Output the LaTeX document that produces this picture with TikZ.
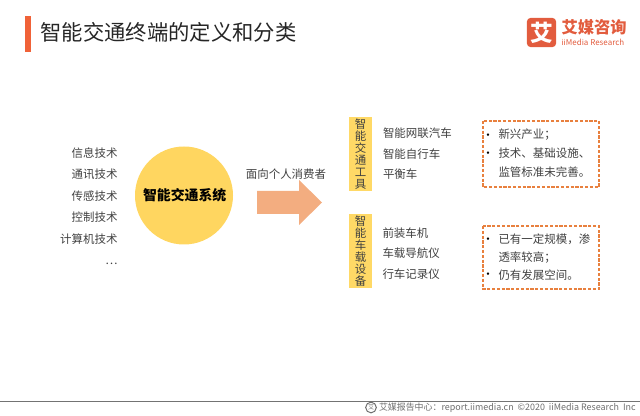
\documentclass[tikz,border=0pt]{standalone}
\usepackage{fontspec}
\setmainfont{Noto Sans CJK SC}
\definecolor{titlebar}{RGB}{240,98,56}
\definecolor{logored}{RGB}{226,92,62}
\definecolor{circlefill}{RGB}{255,214,96}
\definecolor{arrowfill}{RGB}{243,173,128}
\definecolor{tagfill}{RGB}{255,217,102}
\definecolor{dashline}{RGB}{232,128,62}
\definecolor{textgrey}{RGB}{64,64,64}
\definecolor{footgrey}{RGB}{110,110,110}
\tikzset{every picture/.style={line width=0.75pt}}
\tikzset{
  itemtext/.style={inner sep=0pt,text=textgrey,font=\fontsize{8.6}{10}\selectfont,text height=7.6pt,text depth=1.2pt},
  tagtext/.style={inner sep=0pt,text=textgrey,font=\fontsize{8.6}{9}\selectfont,align=center,fill=tagfill,minimum width=17.25pt,minimum height=55.5pt},
  dashbox/.style={draw=dashline,line width=1.1pt,dash pattern=on 2.4pt off 1.2pt}
}

\begin{document}
\begin{tikzpicture}[x=0.75pt,y=0.75pt,yscale=-1]
\useasboundingbox (0,0) rectangle (640,416);

%Shape: Rectangle [id:titlebar]
\fill [titlebar] (25,16) rectangle (31,52);
% Text Node
\node (titletext) at (40,32) [anchor=west,inner sep=0pt,text=black!85,font=\fontsize{16}{18}\selectfont] {智能交通终端的定义和分类};

%Shape: Rounded Rectangle [id:logobox]
\node (logobox) at (541.5,32.5) [fill=logored,rounded corners=3pt,minimum size=22pt,inner sep=0pt,text=white,font=\fontsize{17}{18}\bfseries\selectfont] {艾};
% Text Node
\node (logoname) at (561,27) [anchor=west,inner sep=0pt,text=logored,font=\fontsize{12.2}{14}\bfseries\selectfont] {艾媒咨询};
% Text Node
\node (logosub) at (561,43) [anchor=west,inner sep=0pt,text=logored,font=\fontsize{6}{7}\selectfont,text height=4.6pt,text depth=0.4pt] {iiMedia Research};

% Text Node
\node (tech1) at (118,153) [anchor=east,itemtext] {信息技术};
% Text Node
\node (tech2) at (118,174) [anchor=east,itemtext] {通讯技术};
% Text Node
\node (tech3) at (118,196) [anchor=east,itemtext] {传感技术};
% Text Node
\node (tech4) at (118,217) [anchor=east,itemtext] {控制技术};
% Text Node
\node (tech5) at (118,239) [anchor=east,itemtext] {计算机技术};
% Text Node
\node (tech6) at (118,260) [anchor=east,itemtext] {…};

%Shape: Circle [id:syscircle]
\node (syscircle) at (184,195.5) [circle,fill=circlefill,minimum size=73.5pt,inner sep=0pt,text=black,font=\fontsize{10.4}{12}\bfseries\selectfont] {\hspace{1pt}智能交通系统};

% Text Node
\node (usertext) at (286,174) [itemtext] {面向个人消费者};
%Shape: Right Arrow [id:userarrow]
\fill [arrowfill] (257,191) -- (299,191) -- (299,180) -- (322,202.5) -- (299,225) -- (299,214) -- (257,214) -- cycle ;

%Shape: Rectangle [id:tagtool]
\node (tagtool) at (360.5,154) [tagtext] {智\\能\\交\\通\\工\\具};
%Shape: Rectangle [id:tagcar]
\node (tagcar) at (360.5,251) [tagtext] {智\\能\\车\\载\\设\\备};

% Text Node
\node (tool1) at (382.5,133) [anchor=west,itemtext] {智能网联汽车};
% Text Node
\node (tool2) at (382.5,154) [anchor=west,itemtext] {智能自行车};
% Text Node
\node (tool3) at (382.5,174) [anchor=west,itemtext] {平衡车};
% Text Node
\node (car1) at (382,233) [anchor=west,itemtext] {前装车机};
% Text Node
\node (car2) at (382,253) [anchor=west,itemtext] {车载导航仪};
% Text Node
\node (car3) at (382,274) [anchor=west,itemtext] {行车记录仪};

%Shape: Rectangle [id:notetool]
\draw [dashbox] (483,121) rectangle (599,187);
%Shape: Rectangle [id:notecar]
\draw [dashbox] (483,226) rectangle (599,289);

% Text Node
\node (dot1) at (488,135) [itemtext,text=black] {•};
% Text Node
\node (note1) at (498,134) [anchor=west,itemtext] {新兴产业；};
% Text Node
\node (dot2) at (488,153) [itemtext,text=black] {•};
% Text Node
\node (note2) at (498,153) [anchor=west,itemtext] {技术、基础设施、};
% Text Node
\node (note3) at (498,172) [anchor=west,itemtext] {监管标准未完善。};
% Text Node
\node (dot3) at (488,239) [itemtext,text=black] {•};
% Text Node
\node (note4) at (498,239) [anchor=west,itemtext] {已有一定规模，渗};
% Text Node
\node (note5) at (498,257) [anchor=west,itemtext] {透率较高；};
% Text Node
\node (dot4) at (488,274) [itemtext,text=black] {•};
% Text Node
\node (note6) at (498,275) [anchor=west,itemtext] {仍有发展空间。};

%Straight Lines [id:footrule]
\draw [color=black!55,line width=0.8pt] (0,401.5) -- (640,401.5);
%Shape: Circle [id:footicon]
\node (footicon) at (371,407.5) [circle,draw=footgrey,inner sep=0pt,minimum size=8pt,text=footgrey,font=\fontsize{4.5}{5}\selectfont] {艾};
% Text Node
\node (foottext) at (378.5,407.5) [anchor=west,inner sep=0pt,text=footgrey,font=\fontsize{6.7}{8}\selectfont] {艾媒报告中心：report.iimedia.cn\ \ ©2020\ \ iiMedia Research\ \ Inc};

\end{tikzpicture}
\end{document}
